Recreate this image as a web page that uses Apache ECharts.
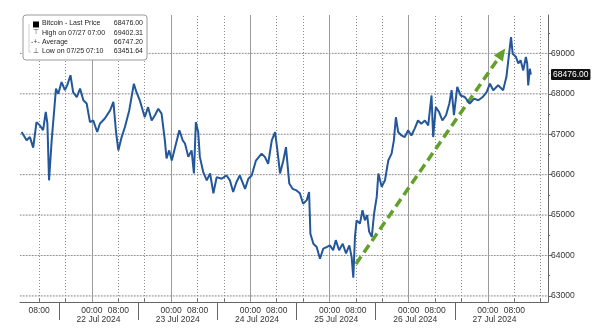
<!DOCTYPE html>
<html>
<head>
<meta charset="utf-8">
<script src="https://cdn.jsdelivr.net/npm/echarts@6/dist/echarts.min.js"></script>
<style>html,body{margin:0;padding:0;background:#fff}#c{width:600px;height:330px}</style>
</head>
<body>
<div id="c"></div>
<script>
// hours since 21 Jul 2024 00:00
const hours = [2.7,4.2,5.2,6.2,7.2,8.2,9.2,10.0,10.5,11.0,11.8,12.3,13.1,13.8,14.8,15.8,16.5,17.5,18.3,19.4,20.4,21.4,22.4,23.4,24.4,25.6,26.4,27.9,29.5,30.5,31.3,32.0,33.0,34.0,35.3,36.7,37.5,38.5,40.0,41.0,42.1,43.1,44.1,45.1,46.1,46.6,47.4,48.2,49.2,50.5,51.5,52.2,53.2,54.2,54.9,55.5,56.2,56.7,57.7,58.8,59.8,60.8,61.8,63.3,64.8,65.8,66.8,67.8,68.8,70.4,71.4,72.4,73.7,75.4,76.4,77.4,78.5,79.5,80.2,81.0,82.0,82.8,83.8,84.8,86.0,87.0,88.0,89.1,89.8,90.2,91.1,92.1,93.1,94.1,95.1,96.1,97.1,97.9,98.9,100.0,101.0,102.0,102.7,103.2,103.7,104.2,105.2,106.0,106.7,107.4,108.0,108.8,109.5,110.3,110.8,111.8,112.8,113.8,114.8,115.5,116.1,116.8,117.8,118.8,119.8,120.8,121.8,122.8,123.8,124.9,125.9,126.9,127.4,128.2,129.2,130.2,131.3,132.3,133.0,133.7,134.7,135.7,137.0,138.5,139.8,141.1,142.4,143.6,144.6,145.6,147.1,147.6,148.6,149.6,150.4,151.0,151.5,152.5,153.2,153.9,154.7,155.5,155.9,156.2,156.7,157.0];
const prices = [67055,66850,66930,66670,67300,67220,67100,67550,67270,65860,66850,67340,68130,68000,68290,68090,68210,68460,68040,67920,68130,67840,67760,67300,67340,67055,67260,67390,67590,67800,67055,66600,66930,67180,67590,68250,68040,67840,67420,67670,67340,67470,67630,67510,66850,66400,66600,66350,66680,67100,66850,66770,66440,66600,66030,67300,67055,66440,66070,65860,66030,65540,65940,65900,65980,65860,65570,65820,65980,65650,65900,65980,66350,66520,66440,66270,66850,67055,66600,66030,66350,66680,65780,65650,65610,65540,65280,65370,65570,64540,64290,64210,63920,64170,64210,64250,64130,64380,64130,64290,64050,64250,63960,63452,64460,64870,64790,65120,64870,65000,64590,64460,65040,65450,66030,65700,65860,66350,66520,66850,67420,67055,66970,66930,67100,66970,67140,67340,67260,67340,67220,67960,66930,67670,67550,67340,67470,67760,68090,67470,68170,67960,67920,67760,67880,67840,67920,68040,68250,68090,68210,68170,68090,68420,68990,69402,68990,68910,68750,68830,68580,68910,68750,68210,68620,68476];
const lastPrice = 68476.00;
const yTicks = [63000,64000,65000,66000,67000,68000,69000];
const yMinorTicks = [63500,64500,65500,66500,67500,68500,69500];
const timeLabelHours = [8,24,32,48,56,72,80,96,104,120,128,144,152];
const dayStartHours = [24,48,72,96,120,144];
const dottedHours = [8,16,32,40,56,64,80,88,104,112,128,136,152,160];
const tickHours = [8,16,24,32,40,48,56,64,72,80,88,96,104,112,120,128,136,144,152,160];
const dateLabelHours = [26,50,74,98,122,146];
const dateSeparatorHours = [14,38,62,86,110,134];
const arrowStart = [104, 63790];
const arrowEnd = [148.2, 69000];
const legendRows = [
  ['Bitcoin - Last Price', '68476.00'],
  ['High on 07/27 07:00', '69402.31'],
  ['Average', '66747.20'],
  ['Low on 07/25 07:10', '63451.64']
];

const X_MIN = 2.2, X_MAX = 162.2, Y_MIN = 62850, Y_MAX = 69950;
const data = hours.map((h, i) => [h, prices[i]]);
const FONT = 'Liberation Sans';
const pad2 = n => (n < 10 ? '0' : '') + n;
const dotted = () => ({color: '#8c8c8c', width: 1, type: [1, 2], opacity: 1});

const vMarks = []
  .concat(dottedHours.map(v => ({xAxis: v, lineStyle: dotted()})))
  .concat(dayStartHours.map(v => ({xAxis: v, lineStyle: {color: '#9a9a9a', width: 1, type: 'solid', opacity: 1}})));

const hGridSeries = [].concat(
  yTicks.map(v => ({
    type: 'line', data: [[X_MIN, v], [X_MAX, v]], silent: true, z: 1,
    showSymbol: false, symbol: 'none',
    lineStyle: {color: '#e4e4e4', width: 1, type: 'solid'}
  })),
  yTicks.map(v => ({
    type: 'line', data: [[X_MIN, v], [X_MAX, v]], silent: true, z: 2,
    showSymbol: false, symbol: 'none',
    lineStyle: {color: '#909090', width: 1, type: [1.5, 1.5]}
  }))
);

const chart = echarts.init(document.getElementById('c'), null, {renderer: 'canvas'});
const legendTexts = legendRows.map((r, i) => ([
  {type: 'text', left: 42, top: 20 + i * 9.2, z: 101,
   style: {text: r[0], font: '7px ' + FONT, fill: '#222'}},
  {type: 'text', right: 600 - 143, top: 20 + i * 9.2, z: 101,
   style: {text: r[1], font: '7px ' + FONT, fill: '#222', align: 'right'}}
])).flat();

chart.setOption({
  animation: false,
  grid: {left: 20, right: 52, top: 15, bottom: 28},
  xAxis: [{
    type: 'value', min: X_MIN, max: X_MAX, position: 'bottom',
    axisLine: {show: true, lineStyle: {color: '#666', width: 1}},
    axisTick: {show: true, inside: true, length: 3, customValues: tickHours, lineStyle: {color: '#666'}},
    axisLabel: {customValues: timeLabelHours, margin: 4, fontSize: 8.5, fontFamily: FONT, color: '#333',
      formatter: v => pad2(Math.round(v) % 24) + ':00'},
    splitLine: {show: false}
  }, {
    type: 'value', min: X_MIN, max: X_MAX, position: 'bottom',
    axisLine: {show: false},
    axisTick: {show: true, inside: false, length: 18, customValues: dateSeparatorHours, lineStyle: {color: '#666'}},
    axisLabel: {customValues: dateLabelHours, margin: 13, fontSize: 8.5, fontFamily: FONT, color: '#333',
      formatter: v => (21 + Math.floor(v / 24)) + ' Jul 2024'},
    splitLine: {show: false}
  }],
  yAxis: [{
    type: 'value', min: Y_MIN, max: Y_MAX, position: 'right',
    axisLine: {show: true, lineStyle: {color: '#666', width: 1}},
    axisTick: {show: true, inside: false, length: 4, customValues: yTicks, lineStyle: {color: '#666'}},
    axisLabel: {customValues: yTicks, margin: 3, fontSize: 8.5, fontFamily: FONT, color: '#333',
      formatter: v => String(v)},
    splitLine: {show: false}
  }, {
    type: 'value', min: Y_MIN, max: Y_MAX, position: 'right',
    axisLine: {show: false},
    axisTick: {show: true, inside: false, length: 2, customValues: yMinorTicks, lineStyle: {color: '#666'}},
    axisLabel: {show: false},
    splitLine: {show: false}
  }, {
    type: 'value', min: Y_MIN, max: Y_MAX, position: 'right',
    axisLine: {show: false},
    axisTick: {show: false},
    axisLabel: {customValues: [lastPrice], margin: 3, fontSize: 8.5, fontFamily: FONT, color: '#fff',
      backgroundColor: '#111', padding: [1, 2, 1, 2], borderRadius: 1,
      formatter: v => v.toFixed(2)},
    splitLine: {show: false}
  }],
  series: hGridSeries.concat([{
    type: 'line', data: [], silent: true, z: 1,
    markLine: {silent: true, symbol: 'none', label: {show: false}, data: vMarks, animation: false}
  }, {
    type: 'line', data: data, showSymbol: false, z: 5,
    lineStyle: {color: '#23579a', width: 2},
  }, {
    type: 'line', data: [], z: 6,
    markLine: {silent: true, symbol: ['none', 'triangle'], symbolSize: [11, 12], label: {show: false},
      lineStyle: {color: '#62a02a', width: 3.5, type: [9, 5]},
      data: [[{coord: arrowStart}, {coord: arrowEnd}]], animation: false}
  }]),
  graphic: [
    {type: 'rect', shape: {x: 23, y: 15, width: 124, height: 45, r: 3}, z: 100,
     style: {fill: '#fff', stroke: '#9a9a9a', lineWidth: 1}},
    {type: 'rect', shape: {x: 33, y: 21.5, width: 6, height: 6}, z: 101, style: {fill: '#000'}},
    {type: 'polyline', shape: {points: [[29, 24.5], [29, 52], [31, 52]]}, z: 101,
     style: {stroke: '#888', lineWidth: 0.8, lineDash: [1, 1], fill: null}},
    {type: 'text', left: 33, top: 29, z: 101, style: {text: '⊤', font: '7px ' + FONT, fill: '#444'}},
    {type: 'text', left: 31, top: 38.5, z: 101, style: {text: '-+-', font: '7px ' + FONT, fill: '#444'}},
    {type: 'text', left: 33, top: 47.5, z: 101, style: {text: '⊥', font: '7px ' + FONT, fill: '#444'}}
  ].concat(legendTexts)
});
</script>
</body>
</html>
